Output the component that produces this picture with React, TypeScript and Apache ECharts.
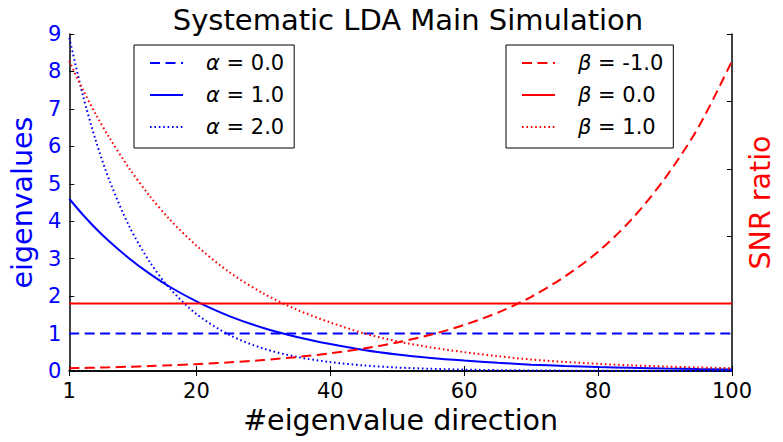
import React, { useEffect, useRef } from 'react';
import * as echarts from 'echarts';

const FONT = 'DejaVu Sans';
const BLUE = '#0000ff';
const RED = '#ff0000';

const TITLE = 'Systematic LDA Main Simulation';
const X_TICKS = [1, 20, 40, 60, 80, 100];

// shared sample positions along the x-axis (eigenvalue direction index)
const X = [1, 3, 5, 7, 10, 13, 16, 20, 25, 30, 35, 40, 45, 50, 55, 60, 65, 70, 75, 80, 85, 90, 95, 100];

// eigenvalues (left axis)
const ALPHA0_X = [1, 100];
const ALPHA0 = [1.0, 1.0];
const ALPHA1 = [4.6, 4.18, 3.8, 3.46, 3.0, 2.6, 2.25, 1.86, 1.46, 1.15, 0.91, 0.72, 0.56, 0.44, 0.35, 0.28, 0.22, 0.17, 0.135, 0.106, 0.084, 0.066, 0.052, 0.041];
const ALPHA2 = [8.9, 7.39, 6.13, 5.09, 3.85, 2.92, 2.21, 1.52, 0.955, 0.6, 0.377, 0.237, 0.149, 0.093, 0.059, 0.037, 0.023, 0.0145, 0.009, 0.0057, 0.0036, 0.0023, 0.0014, 0.0009];

// SNR ratio (right axis)
const BETA0_X = [1, 100];
const BETA0 = [1.0, 1.0];
const BETA_NEG1 = [0.041, 0.045, 0.05, 0.054, 0.063, 0.073, 0.084, 0.101, 0.128, 0.163, 0.207, 0.263, 0.334, 0.423, 0.538, 0.683, 0.866, 1.1, 1.4, 1.77, 2.25, 2.86, 3.62, 4.6];
const BETA1 = [4.6, 4.18, 3.8, 3.46, 3.0, 2.6, 2.25, 1.86, 1.46, 1.15, 0.91, 0.72, 0.56, 0.44, 0.35, 0.28, 0.22, 0.17, 0.135, 0.106, 0.084, 0.066, 0.052, 0.041];

const ALPHA_NAMES = ['α = 0.0', 'α = 1.0', 'α = 2.0'];
const BETA_NAMES = ['β = -1.0', 'β = 0.0', 'β = 1.0'];

const zip = (xs: number[], ys: number[]) => xs.map((x, i) => [x, ys[i]]);

const DASHED = [10, 5.5];
const DOTTED = [1.6, 2.8];

export default function App() {
  const ref = useRef<HTMLDivElement>(null);
  useEffect(() => {
    if (!ref.current) return;
    const chart = echarts.init(ref.current, undefined, { renderer: 'svg' });

    const legendBase = (left: number, data: string[]) => ({
      data,
      left,
      top: 45,
      orient: 'vertical',
      borderColor: '#000',
      borderWidth: 1,
      borderRadius: 0,
      backgroundColor: '#fff',
      padding: [7, 10, 10, 15],
      itemWidth: 33,
      itemHeight: 14,
      itemGap: 10,
      selectedMode: false,
      itemStyle: { opacity: 0 },
      formatter: (n: string) => n.replace(/^([αβ])/, '{g|$1}'),
      textStyle: {
        fontFamily: FONT,
        fontSize: 21,
        color: '#000',
        lineHeight: 22,
        padding: [0, 0, 0, 18],
        rich: {
          g: { fontFamily: FONT, fontSize: 21, fontStyle: 'italic', color: '#000' },
        },
      },
    });

    const line = (name: string, data: number[][], color: string, type: any, yAxisIndex: number) => ({
      name,
      type: 'line',
      data,
      yAxisIndex,
      smooth: 0.3,
      symbol: 'none',
      showSymbol: false,
      lineStyle: { color, width: 2, type },
      itemStyle: { color },
    });

    const option: any = {
      animation: false,
      title: {
        text: TITLE,
        left: 403,
        textAlign: 'center',
        top: 0,
        textStyle: { fontFamily: FONT, fontSize: 29, fontWeight: 'normal', color: '#000' },
      },
      grid: { left: 66, right: 43, top: 34, bottom: 71 },
      legend: [legendBase(134, ALPHA_NAMES), legendBase(506, BETA_NAMES)],
      xAxis: [
        {
          type: 'value',
          min: 1,
          max: 100,
          position: 'bottom',
          name: '#eigenvalue direction',
          nameLocation: 'middle',
          nameGap: 35,
          nameTextStyle: { fontFamily: FONT, fontSize: 28.5, color: '#000' },
          axisLine: { show: true, lineStyle: { color: '#000', width: 1.5 } },
          axisTick: { show: true, inside: true, length: 5, customValues: X_TICKS, lineStyle: { color: '#000' } },
          axisLabel: { customValues: X_TICKS, fontFamily: FONT, fontSize: 21, color: '#000', margin: 9 },
          splitLine: { show: false },
        },
        {
          type: 'value',
          min: 1,
          max: 100,
          position: 'top',
          axisLine: { show: true, lineStyle: { color: '#000', width: 1.5 } },
          axisTick: { show: true, inside: true, length: 5, customValues: X_TICKS, lineStyle: { color: '#000' } },
          axisLabel: { show: false },
          splitLine: { show: false },
        },
      ],
      yAxis: [
        {
          type: 'value',
          min: 0,
          max: 9,
          interval: 1,
          position: 'left',
          name: 'eigenvalues',
          nameLocation: 'middle',
          nameGap: 28,
          nameRotate: 90,
          nameTextStyle: { fontFamily: FONT, fontSize: 28.5, color: BLUE },
          axisLine: { show: true, lineStyle: { color: '#000', width: 1.5 } },
          axisTick: { show: true, inside: true, length: 5, lineStyle: { color: '#000' } },
          axisLabel: { fontFamily: FONT, fontSize: 21, color: BLUE, margin: 8 },
          splitLine: { show: false },
        },
        {
          type: 'value',
          min: 0,
          max: 5,
          interval: 1,
          position: 'right',
          name: 'SNR ratio',
          nameLocation: 'middle',
          nameGap: 14,
          nameRotate: 90,
          nameTextStyle: { fontFamily: FONT, fontSize: 28.5, color: RED },
          axisLine: { show: true, lineStyle: { color: '#000', width: 1.5 } },
          axisTick: { show: true, inside: true, length: 5, lineStyle: { color: '#000' } },
          axisLabel: { show: false },
          splitLine: { show: false },
        },
      ],
      series: [
        line(ALPHA_NAMES[0], zip(ALPHA0_X, ALPHA0), BLUE, DASHED, 0),
        line(ALPHA_NAMES[1], zip(X, ALPHA1), BLUE, 'solid', 0),
        line(ALPHA_NAMES[2], zip(X, ALPHA2), BLUE, DOTTED, 0),
        line(BETA_NAMES[0], zip(X, BETA_NEG1), RED, DASHED, 1),
        line(BETA_NAMES[1], zip(BETA0_X, BETA0), RED, 'solid', 1),
        line(BETA_NAMES[2], zip(X, BETA1), RED, DOTTED, 1),
      ],
    };
    chart.setOption(option);
    return () => chart.dispose();
  }, []);
  return (
    <div
      ref={ref}
      style={{ position: 'fixed', left: 0, top: 0, width: 783, height: 442, background: '#fff' }}
    />
  );
}
